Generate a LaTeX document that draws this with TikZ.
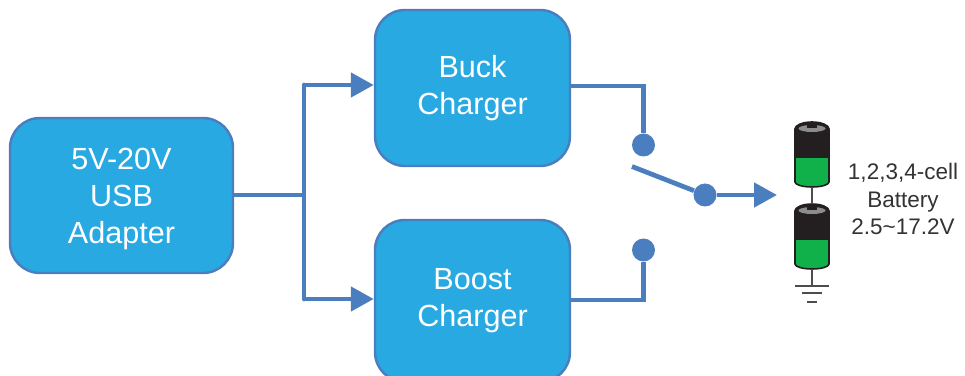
\documentclass[tikz,border=0pt]{standalone}
\usepackage{fontspec}
\setmainfont{Liberation Sans}
\usetikzlibrary{arrows.meta,positioning,calc}
\definecolor{boxfill}{HTML}{29A9E1}
\definecolor{wireblue}{HTML}{4A7EBE}
\definecolor{cellgreen}{HTML}{10B14B}
\definecolor{celldark}{HTML}{231F20}
\definecolor{capgrey}{HTML}{8C8C8C}
\tikzset{>={Triangle[length=0.46cm,width=0.48cm]}}
\tikzset{
  blockbox/.style={draw=wireblue,line width=1.4pt,fill=boxfill,rounded corners=0.6cm,
    text=white,align=center,font=\fontsize{17.4}{21}\selectfont},
  wire/.style={draw=wireblue,line width=2.7pt},
  contact/.style={circle,fill=wireblue,inner sep=0pt,minimum size=0.46cm},
  cellwire/.style={draw=celldark!80,line width=1pt}
}
\newcommand{\celloutline}{(-0.34,-0.14) arc[start angle=180,end angle=0,x radius=0.34,y radius=0.14] -- (0.34,-1.2) arc[start angle=0,end angle=-180,x radius=0.34,y radius=0.1] -- cycle}

\begin{document}
\begin{tikzpicture}

\useasboundingbox (0,0) rectangle (19.3,7.5);

\node [blockbox,minimum width=4.46cm,minimum height=3.1cm] (adapter) at (2.43,3.59) {\rule{0pt}{16pt}5V-20V\\USB\\Adapter};
\node [blockbox,minimum width=3.9cm,minimum height=3.12cm] (buck) at (9.45,5.74) {Buck\\Charger};
\node [blockbox,minimum width=3.9cm,minimum height=3.24cm] (boost) at (9.45,1.48) {Boost\\Charger};

\node [contact] (c1) at (12.87,4.6) {};
\node [contact] (c2) at (12.87,2.5) {};
\node [contact] (pole) at (14.1,3.6) {};
\coordinate (lever) at (12.64,4.17);
\coordinate (out) at (15.54,3.6);
\coordinate (jmid) at (6.08,3.6);
\coordinate (jtop) at (6.08,5.8);
\coordinate (jbot) at (6.08,1.52);
\coordinate (bucktop) at (12.87,5.78);
\coordinate (boostbot) at (12.87,1.5);

% input side
\draw [wire] (adapter.east |- jmid) -- (jmid);
\draw [wire,line cap=round] (jtop) -- (jbot);
\draw [wire,->] (jtop) -- (buck.west |- jtop);
\draw [wire,->] (jbot) -- (boost.west |- jbot);

% switch
\draw [wire] (buck.east |- bucktop) -- (bucktop) -- (c1);
\draw [wire] (boost.east |- boostbot) -- (boostbot) -- (c2);
\draw [wire] (lever) -- (pole);
\draw [wire,->] (pole) -- (out);

% battery
\foreach \name/\ytop in {top/5.06,bot/3.42}{
  \begin{scope}[shift={(16.24,\ytop)}]
    \begin{scope}
      \clip \celloutline;
      \fill [celldark] (-0.4,0) rectangle (0.4,-0.72);
      \fill [cellgreen] (-0.4,-0.72) rectangle (0.4,-1.4);
      \fill [capgrey] (0,-0.13) ellipse [x radius=0.27,y radius=0.07];
    \end{scope}
    \draw [celldark,line width=0.9pt] \celloutline;
    \fill [celldark] (-0.1,-0.01) rectangle (0.1,-0.13);
    \coordinate (\name cap) at (0,0);
    \coordinate (\name base) at (0,-1.3);
  \end{scope}
}

\coordinate (gnd) at (16.24,1.78);
\coordinate (gndl) at (15.9,1.78);
\coordinate (gndr) at (16.58,1.78);
\coordinate (gml) at (16.04,1.64);
\coordinate (gmr) at (16.44,1.64);
\coordinate (gsl) at (16.14,1.46);
\coordinate (gsr) at (16.34,1.46);

\draw [cellwire] (topbase) -- (botcap);
\draw [cellwire] (botbase) -- (gnd);
\draw [cellwire] (gndl) -- (gndr);
\draw [cellwire] (gml) -- (gmr);
\draw [cellwire] (gsl) -- (gsr);

\node [align=center,text=black!80,font=\fontsize{12.8}{15.8}\selectfont] (label) at (18.06,3.52) {1,2,3,4-cell\\Battery\\2.5\textasciitilde17.2V};

\end{tikzpicture}
\end{document}
